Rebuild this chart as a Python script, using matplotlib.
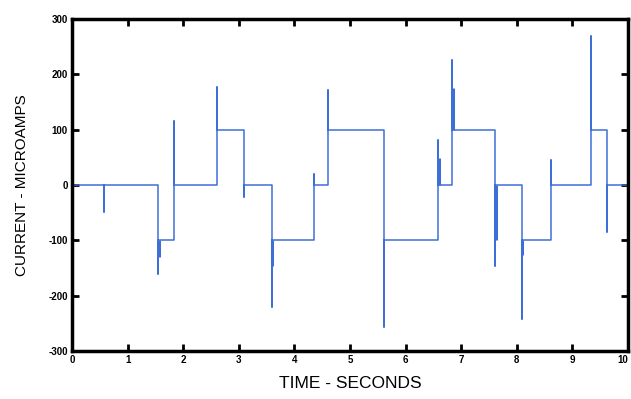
import matplotlib
matplotlib.use("Agg")
import matplotlib.pyplot as plt

# switching events: time (s), spike peak (uA), level after the switch (uA)
event_t = [0.58, 1.55, 1.84, 2.60, 3.10, 3.59, 4.35, 4.60, 5.62, 6.59, 6.84, 7.61, 8.09, 8.62, 9.33, 9.63]
spike = [-49, -160, 115, 178, -22, -221, 19, 171, -257, 82, 225, -146, -242, 46, 270, -85]
level = [0, -100, 0, 100, 0, -100, 0, 100, -100, 0, 100, 0, -100, 0, 100, 0]
t_start, t_end, level0 = 0.0, 10.0, 0

# heavier bits of the trace near some switches
thick_t = [1.56, 3.60, 6.60, 6.85, 7.62, 8.10]
thick_lo = [-130, -146, 0, 100, -100, -127]
thick_hi = [-100, -100, 48, 175, 0, -100]

xticks = [0, 1, 2, 3, 4, 5, 6, 7, 8, 9, 10]
yticks = [-300, -200, -100, 0, 100, 200, 300]

blue = "#3d6fd6"
plt.rcParams["font.family"] = ["Liberation Sans", "DejaVu Sans"]

xs, ys = [t_start], [level0]
prev = level0
for t, s, lv in zip(event_t, spike, level):
    xs += [t, t, t]
    ys += [prev, s, lv]
    prev = lv
xs.append(t_end)
ys.append(prev)

fig = plt.figure(figsize=(6.31, 3.99), dpi=100)
ax = fig.add_axes([0.1141, 0.1203, 0.8811, 0.8321])
ax.plot(xs, ys, color=blue, lw=1.1)
ax.vlines(thick_t, thick_lo, thick_hi, color=blue, lw=2.2)

ax.set_xlim(0, 10)
ax.set_ylim(-300, 300)
ax.set_xticks(xticks)
ax.set_yticks(yticks)
ax.set_xticklabels([str(v) for v in xticks], fontsize=7, fontweight="bold")
ax.set_yticklabels([str(v) for v in yticks], fontsize=7, fontweight="bold")
ax.get_xticklabels()[-1].set_horizontalalignment("right")
ax.tick_params(direction="in", length=5, width=2, top=True, right=True, pad=3)
for sp in ax.spines.values():
    sp.set_linewidth(2.5)

ax.set_xlabel("TIME - SECONDS", fontsize=12.5, labelpad=8)
ax.set_ylabel("CURRENT - MICROAMPS", fontsize=11, labelpad=14)

fig.savefig("out.png", dpi=100)
